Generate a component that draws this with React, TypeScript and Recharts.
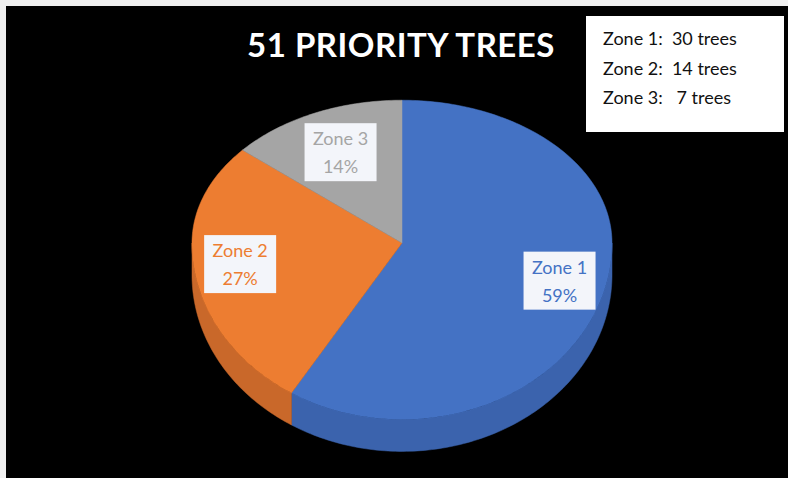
import React from 'react';
import { PieChart, Pie, Cell } from 'recharts';

const zones = ['Zone 1', 'Zone 2', 'Zone 3'];
const treeCounts = [30, 14, 7];
const countLabels = ['30 trees', '14 trees', ' 7 trees'];
const chartTitle = '51 PRIORITY TREES';

const topColors = ['#4472c4', '#ed7d31', '#a5a5a5'];
const wallColors = ['#3b63ad', '#c9682a', '#8c8c8c'];
// how far out along the slice each label box sits
const labelRadius = [0.78, 0.78, 0.7];

const data = zones.map((name, i) => ({ name, value: treeCounts[i] }));

// fake 3D: squash the circle into an ellipse, flatter at the back than the front
const RY_TOP = 0.68;
const RY_BOT = 0.84;
const DEPTH = 32;
const RAD = Math.PI / 180;

const pt = (cx: number, cy: number, r: number, deg: number, dy = 0) => {
  const s = Math.sin(deg * RAD);
  const k = s > 0 ? RY_TOP : RY_BOT;
  return [cx + r * Math.cos(deg * RAD), cy - r * k * s + dy];
};

const arcPoints = (cx: number, cy: number, r: number, a0: number, a1: number, dy = 0) => {
  const steps = Math.max(2, Math.ceil(Math.abs(a1 - a0)));
  const out: number[][] = [];
  for (let i = 0; i <= steps; i++) out.push(pt(cx, cy, r, a0 + ((a1 - a0) * i) / steps, dy));
  return out;
};

const toPath = (pts: number[][]) =>
  pts.map((p, i) => `${i ? 'L' : 'M'}${p[0].toFixed(2)},${p[1].toFixed(2)}`).join(' ') + ' Z';

const Slice3D = (props: any) => {
  const { cx, cy, outerRadius, startAngle, endAngle, index } = props;
  // front half of the rim (sin <= 0) gets a side wall
  const lo = Math.min(startAngle, endAngle);
  const hi = Math.max(startAngle, endAngle);
  const walls: number[][][] = [];
  for (let base = -720; base <= 360; base += 360) {
    const a = Math.max(lo, base - 180);
    const b = Math.min(hi, base);
    if (b - a > 0.01) {
      const rim = arcPoints(cx, cy, outerRadius, b, a);
      const low = arcPoints(cx, cy, outerRadius, a, b, DEPTH);
      walls.push([...rim, ...low]);
    }
  }
  const top = [[cx, cy], ...arcPoints(cx, cy, outerRadius, startAngle, endAngle)];
  return (
    <g>
      {walls.map((w, i) => (
        <path key={i} d={toPath(w)} fill={wallColors[index]} stroke={wallColors[index]} strokeWidth={0.5} />
      ))}
      <path d={toPath(top)} fill={topColors[index]} stroke={topColors[index]} strokeWidth={0.5} />
    </g>
  );
};

const renderLabel = (props: any) => {
  const { cx, cy, outerRadius, midAngle, percent, index, name } = props;
  const [x, y] = pt(cx, cy, outerRadius * labelRadius[index], midAngle);
  const w = 72;
  const h = 58;
  return (
    <g key={`lbl-${index}`}>
      <rect x={x - w / 2} y={y - h / 2} width={w} height={h} fill="#f3f5fa" />
      <text x={x} y={y - 7} textAnchor="middle" fontSize={18} fontFamily="Lato, sans-serif" fill={topColors[index]}>
        {name}
      </text>
      <text x={x} y={y + 21} textAnchor="middle" fontSize={18} fontFamily="Lato, sans-serif" fill={topColors[index]}>
        {`${Math.round(percent * 100)}%`}
      </text>
    </g>
  );
};

export default function App() {
  return (
    <div style={{ position: 'relative', width: 788, height: 478, background: '#f0f0f0', overflow: 'hidden' }}>
      <style>{'body{margin:0}'}</style>
      <div style={{ position: 'absolute', left: 6, top: 6, width: 782, height: 472, background: '#000' }} />
      <div
        style={{
          position: 'absolute',
          left: 0,
          width: 802,
          top: 27,
          textAlign: 'center',
          color: '#fff',
          fontFamily: 'Lato, sans-serif',
          fontWeight: 700,
          fontSize: 33,
          letterSpacing: 0.5,
          lineHeight: '34px',
        }}
      >
        {chartTitle}
      </div>
      <div
        style={{
          position: 'absolute',
          left: 586,
          top: 16,
          width: 198,
          height: 116,
          background: '#fff',
          boxSizing: 'border-box',
          paddingTop: 8,
          paddingLeft: 17,
          fontFamily: 'Lato, sans-serif',
          fontSize: 18,
          lineHeight: '29.5px',
          color: '#111',
          whiteSpace: 'pre',
        }}
      >
        {zones.map((z, i) => (
          <div key={z}>{`${z}:  ${countLabels[i]}`}</div>
        ))}
      </div>
      <div style={{ position: 'absolute', left: 0, top: 0 }}>
        <PieChart width={788} height={478} margin={{ top: 0, right: 0, bottom: 0, left: 0 }}>
          <Pie
            data={data}
            dataKey="value"
            nameKey="name"
            cx={402}
            cy={243}
            outerRadius={210}
            startAngle={90}
            endAngle={-270}
            shape={Slice3D}
            inactiveShape={Slice3D}
            activeShape={Slice3D}
            label={renderLabel}
            labelLine={false}
            stroke="none"
            isAnimationActive={false}
          >
            {data.map((d, i) => (
              <Cell key={d.name} fill={topColors[i]} />
            ))}
          </Pie>
        </PieChart>
      </div>
    </div>
  );
}
